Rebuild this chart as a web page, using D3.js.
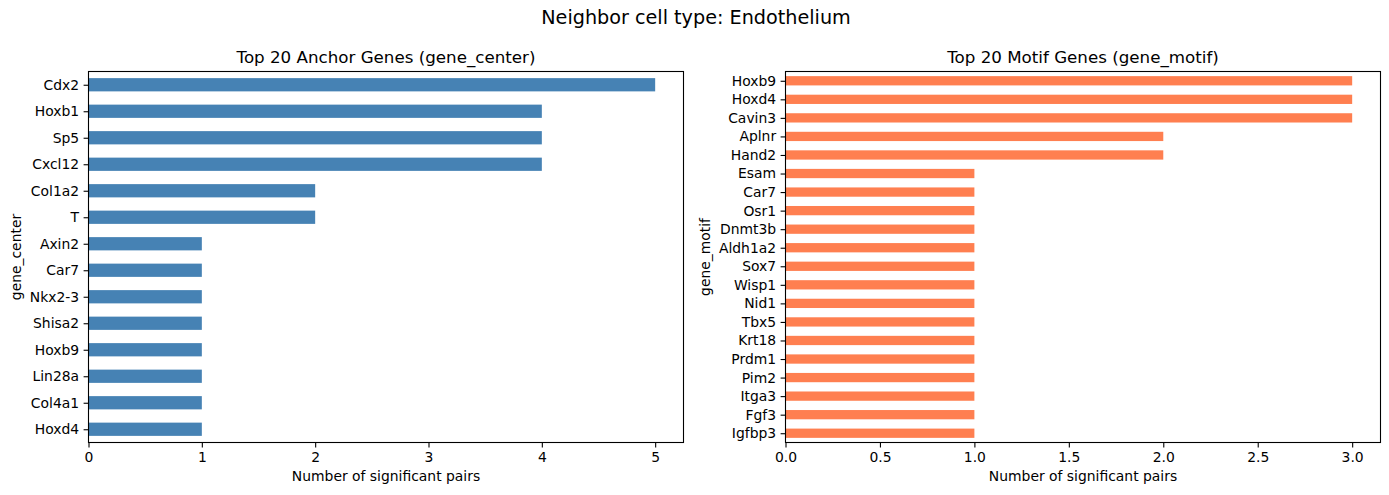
<!DOCTYPE html>
<html>
<head>
<meta charset="utf-8">
<script src="https://cdn.jsdelivr.net/npm/d3@7"></script>
<style>
  body { margin: 0; background: #fff; }
  svg { font-family: "DejaVu Sans", sans-serif; }
  .tick text { font-size: 13.9px; fill: #000; }
</style>
</head>
<body>
<svg width="1389" height="495"></svg>
<script>
// anchor genes (left) and motif genes (right), top of chart first
var centerGenes = ["Cdx2", "Hoxb1", "Sp5", "Cxcl12", "Col1a2", "T", "Axin2", "Car7",
                   "Nkx2-3", "Shisa2", "Hoxb9", "Lin28a", "Col4a1", "Hoxd4"];
var centerCounts = [5, 4, 4, 4, 2, 2, 1, 1, 1, 1, 1, 1, 1, 1];
var centerTicks = [0, 1, 2, 3, 4, 5];

var motifGenes = ["Hoxb9", "Hoxd4", "Cavin3", "Aplnr", "Hand2", "Esam", "Car7", "Osr1",
                  "Dnmt3b", "Aldh1a2", "Sox7", "Wisp1", "Nid1", "Tbx5", "Krt18", "Prdm1",
                  "Pim2", "Itga3", "Fgf3", "Igfbp3"];
var motifCounts = [3, 3, 3, 2, 2, 1, 1, 1, 1, 1, 1, 1, 1, 1, 1, 1, 1, 1, 1, 1];
var motifTicks = [0, 0.5, 1, 1.5, 2, 2.5, 3];

var svg = d3.select("svg");
var axTop = 71.5, axBottom = 442.5;

svg.append("text")
    .attr("x", 696)
    .attr("y", 24)
    .style("text-anchor", "middle")
    .style("font-size", "19.2px")
    .text("Neighbor cell type: Endothelium");

function panel(genes, counts, ticks, fmt, left, right, color, title, ylab, ylabX) {
  var n = genes.length;
  var maxV = d3.max(counts);
  var xScale = d3.scaleLinear()
                  .domain([0, maxV * 1.05])
                  .range([left, right]);
  var yScale = d3.scaleLinear()
                  .domain([-0.5, n - 0.5])
                  .range([axTop, axBottom]);
  var bandH = yScale(0.5) - yScale(0);

  var g = svg.append("g");

  g.selectAll("rect")
    .data(genes)
    .enter()
    .append("rect")
      .attr("x", xScale(0))
      .attr("y", (d, i) => yScale(i) - bandH / 2)
      .attr("width", (d, i) => xScale(counts[i]) - xScale(0))
      .attr("height", bandH)
      .attr("fill", color);

  // frame
  g.append("rect")
    .attr("x", left).attr("y", axTop)
    .attr("width", right - left).attr("height", axBottom - axTop)
    .attr("fill", "none").attr("stroke", "#000").attr("stroke-width", 1.1);

  var xAxis = g.append("g")
      .attr("transform", "translate(0," + axBottom + ")")
      .call(d3.axisBottom(xScale).tickValues(ticks).tickFormat(fmt).tickSize(4.9).tickPadding(4.5));
  var yAxis = g.append("g")
      .attr("transform", "translate(" + left + ",0)")
      .call(d3.axisLeft(yScale).tickValues(d3.range(n)).tickFormat(i => genes[i]).tickSize(4.9).tickPadding(4.5));
  [xAxis, yAxis].forEach(a => {
    a.select(".domain").remove();
    a.selectAll(".tick line").attr("stroke", "#000").attr("stroke-width", 1.1);
    a.selectAll(".tick text").style("font-family", "DejaVu Sans");
  });

  g.append("text")
    .attr("x", (left + right) / 2)
    .attr("y", 63)
    .style("text-anchor", "middle")
    .style("font-size", "16.7px")
    .text(title);

  g.append("text")
    .attr("x", (left + right) / 2)
    .attr("y", 481)
    .style("text-anchor", "middle")
    .style("font-size", "13.9px")
    .text("Number of significant pairs");

  g.append("text")
    .attr("transform", "rotate(-90)")
    .attr("x", -(axTop + axBottom) / 2)
    .attr("y", ylabX)
    .style("text-anchor", "middle")
    .style("font-size", "13.9px")
    .text(ylab);
}

panel(centerGenes, centerCounts, centerTicks, d3.format("d"), 88.5, 683.5,
      "steelblue", "Top 20 Anchor Genes (gene_center)", "gene_center", 21);
panel(motifGenes, motifCounts, motifTicks, d3.format(".1f"), 785.5, 1380.5,
      "coral", "Top 20 Motif Genes (gene_motif)", "gene_motif", 710);
</script>
</body>
</html>
